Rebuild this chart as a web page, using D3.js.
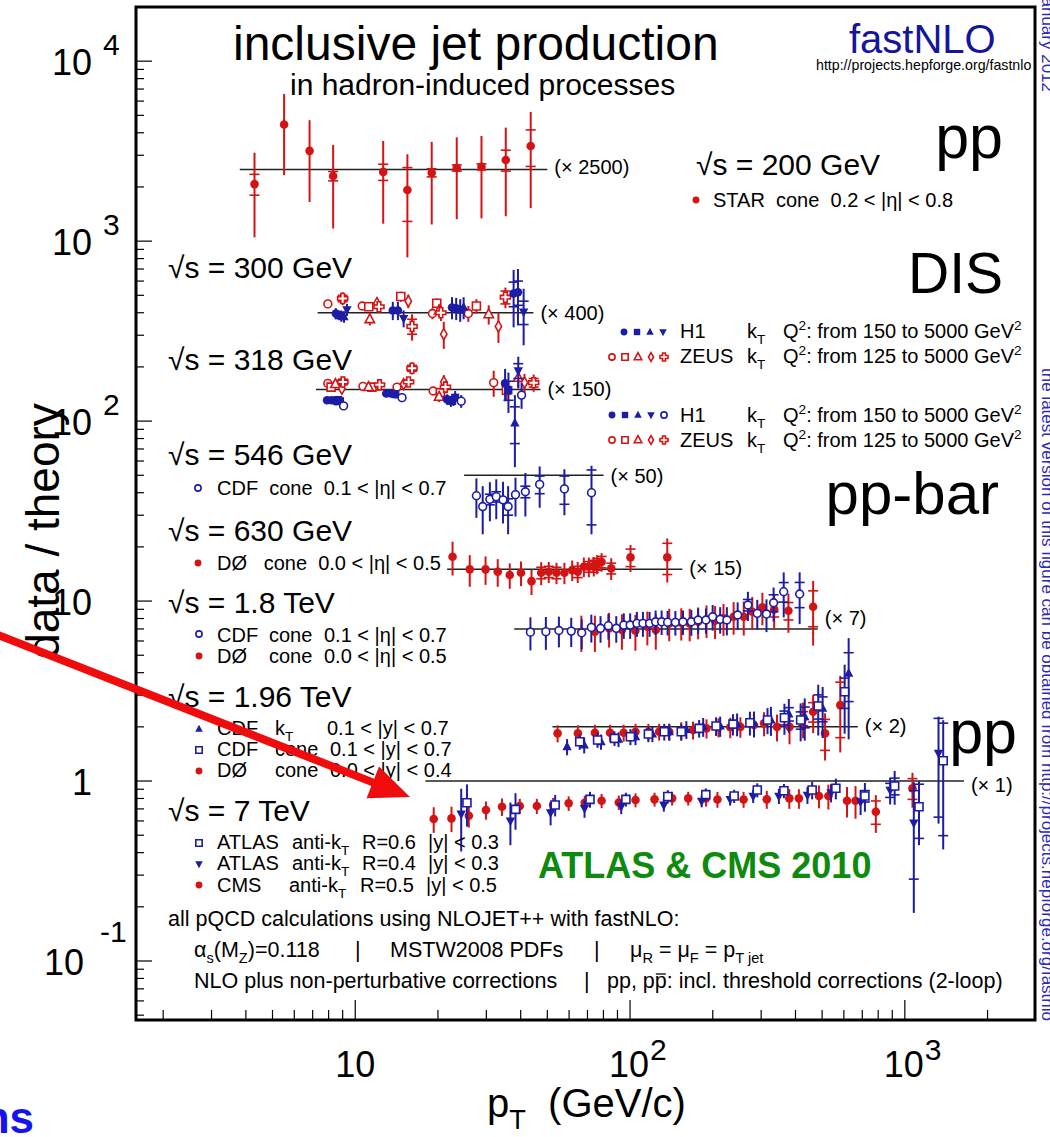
<!DOCTYPE html>
<html>
<head>
<meta charset="utf-8">
<style>
body { margin: 0; background: #fff; }
svg { display: block; font-family: "Liberation Sans", Arial, Helvetica, sans-serif; }
svg text { white-space: pre; }
</style>
</head>
<body>
<svg id="chart" width="1050" height="1137"></svg>
<script src="https://cdn.jsdelivr.net/npm/d3@7"></script>
<script>
const RED = "#d41414", BLUE = "#1c1ca4", GREEN = "#0e8a0e", NAVY = "#14149c";

// each point: [pT (GeV/c), data/theory, total error, stat error (0 = none)]
const star200 = [[4.30,0.83,0.41,0.11],[5.51,1.78,0.85,0],[6.82,1.27,0.61,0],[8.31,0.92,0.45,0.055],[12.64,0.97,0.47,0.10],
  [15.48,0.77,0.445,0.255],[18.98,0.96,0.465,0.05],[23.41,1.02,0.49,0.04],[28.8,1.035,0.5,0.04],[35.3,1.13,0.58,0.15],[43.5,1.35,0.74,0.31]];

// DIS, sqrt(s) = 300 GeV
const h1_300_circ = [[8.5,0.99,0.07],[8.9,0.96,0.07],[13.7,1.03,0.12],[14.3,1.03,0.12],[22.5,1.07,0.15],[23.3,1.06,0.15],[37.7,1.28,0.45,0.2],[39.1,1.30,0.45,0.2]];
const h1_300_sq = [[8.7,0.97,0.06],[24.1,1.04,0.15]];
const h1_300_tu = [[9.1,0.95,0.07],[24.8,1.07,0.15]];
const h1_300_td = [[9.33,1.04,0.08],[15.0,0.93,0.1],[41.0,1.01,0.35,0.15]];
const zeus_300_circ = [[7.95,1.12,0.06],[10.6,1.09,0.05],[19.1,0.99,0.07],[25.8,0.99,0.1]];
const zeus_300_sq = [[11.2,1.08,0.05],[14.65,1.23,0.08],[19.8,1.13,0.07],[27.6,1.09,0.1]];
const zeus_300_tu = [[11.3,0.92,0.07],[20.2,1.03,0.08],[30.6,0.98,0.12]];
const zeus_300_dia = [[12.0,1.13,0.08],[15.6,1.16,0.1],[21.0,0.76,0.13],[33.2,0.84,0.16]];
const zeus_300_cross = [[9.0,1.2,0.1,0.05],[12.2,1.08,0.08],[16.1,0.84,0.14,0.08],[20.5,1.0,0.1],[35.2,1.22,0.16,0.1]];

// DIS, sqrt(s) = 318 GeV
const h1_318_circ = [[7.9,0.87,0.03],[8.2,0.87,0.03],[8.5,0.86,0.03],[12.97,0.95,0.04],[13.5,0.95,0.04],[21.6,0.88,0.06],[22.3,0.86,0.06],[35.1,1.08,0.22]];
const h1_318_sq = [[8.8,0.86,0.04],[14.0,0.94,0.05],[23.1,0.9,0.08],[36.1,0.99,0.25,0.12]];
const h1_318_tu = [[38.1,0.65,0.28,0.15]];
const h1_318_td = [[8.65,0.88,0.04],[22.8,0.87,0.06],[39.2,1.27,0.25,0.12]];
const h1_318_open = [[9.07,0.81,0.04],[14.8,0.9,0.05],[24.3,0.86,0.07],[40.3,0.93,0.15]];
const zeus_318_circ = [[7.95,1.08,0.05],[10.67,1.04,0.04],[14.19,1.03,0.04],[19.2,0.98,0.05],[31.9,1.09,0.18]];
const zeus_318_sq = [[8.17,1.03,0.05],[11.5,1.03,0.04],[20.4,0.96,0.06],[35.5,0.99,0.12]];
const zeus_318_tu = [[8.47,1.07,0.05],[11.18,1.03,0.04],[20.2,0.91,0.06],[39.2,1.16,0.15]];
const zeus_318_dia = [[8.94,1.01,0.05],[15.0,1.07,0.05],[21.0,1.1,0.1],[41.3,1.09,0.13]];
const zeus_318_cross = [[9.02,1.1,0.08,0.04],[12.26,1.06,0.05],[15.64,1.1,0.05],[16.09,1.31,0.1,0.05],[21.3,1.03,0.08],[44.6,1.09,0.12,0.06]];

// p-pbar
const cdf546 = [[27.6,0.77,0.19],[29.1,0.67,0.2],[30.9,0.735,0.18,0.05],[32.6,0.76,0.19,0.05],[34.5,0.73,0.19],[36.0,0.67,0.2,0.07],
  [38.3,0.78,0.19],[41.6,0.81,0.22,0.06],[46.9,0.89,0.23,0.1],[57.7,0.84,0.24,0.15],[72.4,0.8,0.33,0.27]];
const d0630 = [[22.6,1.175,0.25],[26.1,1.0,0.2],[29.8,1.0,0.18],[33.0,0.97,0.17],[36.5,0.93,0.15],[40.1,0.957,0.15],[43.8,0.86,0.14],
  [47.5,0.957,0.14,0.07],[50.6,0.97,0.13,0.07],[54.0,0.957,0.13,0.07],[57.7,0.957,0.13],[61.6,0.99,0.13],[64.5,0.97,0.13,0.07],
  [67.9,1.034,0.13],[70.8,1.034,0.13,0.07],[73.8,1.043,0.13,0.08],[75.9,1.07,0.13,0.08],[78.8,1.10,0.13,0.08],[85.4,1.013,0.14,0.07],
  [100.4,1.166,0.2,0.13],[136.6,1.166,0.32,0.23]];
const cdf1800 = [[43.4,0.96,0.2],[49.4,0.965,0.2],[55.1,0.98,0.19],[61.1,0.973,0.18],[66.7,0.952,0.18],[72.3,1.02,0.18],[78.1,1.008,0.17],
  [83.4,1.042,0.17],[89.1,1.008,0.17],[94.9,1.051,0.17],[100.1,1.051,0.17],[105.9,1.074,0.17],[111.4,1.074,0.17],[117.8,1.074,0.17],
  [123.9,1.096,0.17],[130.3,1.096,0.17],[137.0,1.09,0.17],[146.2,1.088,0.17],[155.8,1.096,0.17],[167.1,1.096,0.18],[176.9,1.121,0.18],
  [188.9,1.121,0.18],[199.8,1.169,0.19],[212.8,1.131,0.19],[225.1,1.121,0.2],[246.4,1.195,0.21],[268.5,1.358,0.25,0.1],[290.4,1.221,0.23],
  [313.7,1.21,0.25],[333,1.398,0.3,0.15],[362.4,1.61,0.45,0.2],[414.2,1.563,0.5,0.25]];
const d01800 = [[66.5,0.965,0.22],[74.5,0.965,0.22],[83.9,1.008,0.22],[93.4,0.986,0.22],[104.6,0.977,0.22],[115.6,1.03,0.22],[124.1,0.986,0.22],
  [138.9,1.074,0.22],[153.6,1.082,0.22],[164.8,1.074,0.22],[176.9,1.096,0.22],[189.8,1.121,0.23],[203.9,1.11,0.23],[218.8,1.145,0.23],
  [238.2,1.169,0.24],[259.3,1.169,0.25],[278.5,1.246,0.26],[303.1,1.318,0.27],[334.6,1.285,0.28,0.12],[377,1.262,0.31,0.14],[463.7,1.328,0.52,0.3]];
const d01960 = [[54.5,0.92,0.1],[64.6,0.92,0.1],[74.5,0.927,0.1],[84.6,0.927,0.1],[94.8,0.927,0.1],[104.7,0.939,0.1],[116.6,0.939,0.1],
  [127.6,0.939,0.1],[138.9,0.939,0.1],[153.6,0.951,0.11],[169.5,0.96,0.11],[189.8,0.981,0.12],[209.8,0.994,0.12],[231.6,0.994,0.13],
  [252.1,1.0,0.13],[282.5,1.023,0.15],[307.4,1.046,0.16],[342.6,1.0,0.17],[380.5,1.0,0.2],[426.2,1.115,0.25,0.1],[463.7,1.213,0.29,0.15],
  [512.4,0.92,0.27,0.18],[582.1,1.321,0.6,0.45]];
const cdfkt1960 = [[59.0,0.775,0.08],[68.1,0.792,0.08],[78.4,0.826,0.08],[90.8,0.852,0.08],[104.7,0.881,0.09],[120.6,0.912,0.09],[138.9,0.939,0.1],
  [160.3,0.966,0.11],[184.6,1.0,0.12],[212.8,1.01,0.13],[245.2,1.036,0.15],[282.5,1.046,0.17],[325.6,1.091,0.2],[378.3,1.178,0.25,0.1],
  [432.3,1.138,0.3,0.15],[502.2,1.267,0.4,0.2],[624.5,1.982,1.13,0.6]];
const cdfcone1960 = [[65.6,0.826,0.08],[76.2,0.845,0.08],[87.8,0.863,0.08],[100.3,0.881,0.09],[116.6,0.912,0.09],[133.2,0.939,0.1],
  [153.6,0.939,0.1],[178.4,0.981,0.11],[205.6,1.01,0.12],[236.9,1.036,0.14],[273.0,1.054,0.16],[316.4,1.091,0.18],[364.6,1.124,0.22,0.1],
  [417.7,1.091,0.26,0.12],[484.0,1.305,0.41,0.2],[603.9,1.566,0.65,0.3]];

// pp, sqrt(s) = 7 TeV
const cms7 = [[19.3,0.615,0.1],[22.4,0.62,0.1],[25.9,0.641,0.09],[29.9,0.69,0.08],[34.2,0.72,0.08],[39.7,0.726,0.07],[45.8,0.726,0.07],
  [52.5,0.736,0.07],[59.8,0.752,0.07],[68.4,0.758,0.07],[78.8,0.777,0.07],[91.0,0.76,0.07],[104.7,0.784,0.07],[122.8,0.791,0.07],
  [142.3,0.801,0.07],[162.8,0.801,0.07],[188.9,0.801,0.08],[208,0.79,0.08],[258.9,0.79,0.08],[314.5,0.791,0.09],[379.8,0.801,0.1],
  [411.6,0.801,0.1],[486.9,0.825,0.12],[526.9,0.825,0.13],[615.9,0.777,0.15],[661.4,0.777,0.16],[784.2,0.675,0.16,0.1],[1066,0.911,0.2,0.12]];
const atlas06 = [[25.5,0.758,0.2],[38.3,0.696,0.16],[53.4,0.736,0.1],[71.5,0.791,0.08],[96.6,0.791,0.07],[137.2,0.82,0.07],[188.7,0.84,0.07],
  [239.3,0.825,0.07],[290.4,0.891,0.08],[363.1,0.883,0.08],[459.9,0.891,0.1],[561,0.911,0.12],[715.6,0.825,0.15,0.06],[918.2,0.938,0.2,0.1],
  [1126,0.72,0.28,0.24],[1379,1.297,0.88,0.8]];
const atlas04 = [[24.3,0.656,0.25],[36.7,0.6,0.16],[51.4,0.667,0.1],[68.3,0.705,0.08],[92.9,0.724,0.07],[132.7,0.736,0.06],[182.2,0.774,0.06],
  [231.4,0.79,0.06],[280.6,0.825,0.07],[348.1,0.825,0.08],[442.1,0.836,0.09],[538.8,0.861,0.1],[690.2,0.767,0.12],[884.1,0.891,0.15,0.08],
  [1078,0.585,0.4,0.3],[1326,1.43,0.85,0.8]];

// theory reference lines: offset factor and pT range
const factors = [2500, 400, 150, 50, 15, 7, 2, 1];
const lineFrom = [3.8, 7.3, 7.2, 24.9, 21.6, 37.9, 52.2, 18.0];
const lineTo = [50, 44.5, 47.2, 80.1, 155, 482, 674, 1641];
const factorLabelDy = [4, 7, 7, 8, 6, -4, 6, 11];

const series = [
  {d: star200, f: 2500, m: "circle", c: RED},
  {d: zeus_300_circ, f: 400, m: "ocircle", c: RED}, {d: zeus_300_sq, f: 400, m: "osquare", c: RED},
  {d: zeus_300_tu, f: 400, m: "otup", c: RED}, {d: zeus_300_dia, f: 400, m: "odiamond", c: RED},
  {d: zeus_300_cross, f: 400, m: "ocross", c: RED},
  {d: h1_300_circ, f: 400, m: "circle", c: BLUE}, {d: h1_300_sq, f: 400, m: "square", c: BLUE},
  {d: h1_300_tu, f: 400, m: "tup", c: BLUE}, {d: h1_300_td, f: 400, m: "tdown", c: BLUE},
  {d: zeus_318_circ, f: 150, m: "ocircle", c: RED}, {d: zeus_318_sq, f: 150, m: "osquare", c: RED},
  {d: zeus_318_tu, f: 150, m: "otup", c: RED}, {d: zeus_318_dia, f: 150, m: "odiamond", c: RED},
  {d: zeus_318_cross, f: 150, m: "ocross", c: RED},
  {d: h1_318_circ, f: 150, m: "circle", c: BLUE}, {d: h1_318_sq, f: 150, m: "square", c: BLUE},
  {d: h1_318_tu, f: 150, m: "tup", c: BLUE}, {d: h1_318_td, f: 150, m: "tdown", c: BLUE},
  {d: h1_318_open, f: 150, m: "ocircle", c: BLUE},
  {d: cdf546, f: 50, m: "ocircle", c: BLUE},
  {d: d0630, f: 15, m: "circle", c: RED},
  {d: d01800, f: 7, m: "circle", c: RED}, {d: cdf1800, f: 7, m: "ocircle", c: BLUE},
  {d: d01960, f: 2, m: "circle", c: RED}, {d: cdfkt1960, f: 2, m: "tup", c: BLUE}, {d: cdfcone1960, f: 2, m: "osquare", c: BLUE},
  {d: cms7, f: 1, m: "circle", c: RED}, {d: atlas04, f: 1, m: "tdown", c: BLUE}, {d: atlas06, f: 1, m: "osquare", c: BLUE}
];

const svg = d3.select("#chart");
const x = d3.scaleLog().domain([1.593, 2976]).range([136, 1035]);
const y = d3.scaleLog().domain([0.047, 20000]).range([1020, 7]);

svg.append("rect").attr("width", 1050).attr("height", 1137).attr("fill", "#fff");

function rich(g, px, py, parts, size, color, anchor) {
  const t = g.append("text").attr("x", px).attr("y", py).attr("font-size", size).attr("fill", color || "#000");
  if (anchor) t.attr("text-anchor", anchor);
  let shift = 0;
  parts.forEach(p => {
    if (typeof p === "string") p = {t: p};
    const target = p.sub ? 0.3 * size : p.sup ? -0.42 * size : 0;
    const ts = t.append("tspan").text(p.t);
    if (target - shift) ts.attr("dy", target - shift);
    if (p.sub || p.sup) ts.attr("font-size", size * 0.68);
    shift = target;
  });
  return t;
}

function marker(g, type, cx, cy, col, k) {
  k = k || 1;
  const open = type[0] === "o";
  const shape = open ? type.slice(1) : type;
  let el;
  if (shape === "circle") {
    el = g.append("circle").attr("cx", cx).attr("cy", cy).attr("r", (open ? 3.9 : 4.3) * k);
  } else {
    let p;
    if (shape === "square") p = [[-4,-4],[4,-4],[4,4],[-4,4]];
    else if (shape === "tup") p = [[0,-5.4],[4.7,3.4],[-4.7,3.4]];
    else if (shape === "tdown") p = [[0,5.4],[4.7,-3.4],[-4.7,-3.4]];
    else if (shape === "diamond") p = [[0,-5.5],[3.2,0],[0,5.5],[-3.2,0]];
    else p = [[-1.8,-5],[1.8,-5],[1.8,-1.8],[5,-1.8],[5,1.8],[1.8,1.8],[1.8,5],[-1.8,5],[-1.8,1.8],[-5,1.8],[-5,-1.8],[-1.8,-1.8]];
    el = g.append("path").attr("d", "M" + p.map(q => (cx + q[0] * k) + "," + (cy + q[1] * k)).join("L") + "Z");
  }
  if (open) el.attr("fill", "#fff").attr("stroke", col).attr("stroke-width", 1.6);
  else el.attr("fill", col);
}

// ticks
const axes = svg.append("g").attr("stroke", "#000").attr("stroke-width", 1.2);
d3.range(-2, 5).forEach(e => {
  d3.range(1, 10).forEach(m => {
    const v = m * Math.pow(10, e);
    if (v < 0.047 || v > 20000) return;
    const yy = y(v);
    axes.append("line").attr("x1", 136).attr("x2", 136 + (m === 1 ? 16 : 8)).attr("y1", yy).attr("y2", yy);
  });
});
d3.range(0, 4).forEach(e => {
  d3.range(1, 10).forEach(m => {
    const v = m * Math.pow(10, e);
    if (v < 1.6 || v > 2976) return;
    const xx = x(v);
    axes.append("line").attr("x1", xx).attr("x2", xx).attr("y1", 1020).attr("y2", 1020 - (m === 1 ? 20 : 10));
  });
});

// y tick labels
const yTicks = [1e4, 1e3, 100, 10, 1, 0.1];
const yTickExp = ["4", "3", "2", "", "", "-1"];
const yTickMain = ["10", "10", "10", "10", "1", "10"];
yTicks.forEach((v, i) => {
  const yy = y(v);
  const neg = yTickExp[i][0] === "-";
  svg.append("text").attr("x", neg ? 84 : 92).attr("y", yy + 14).attr("text-anchor", "end").attr("font-size", 36).text(yTickMain[i]);
  if (yTickExp[i]) svg.append("text").attr("x", neg ? 100 : 103).attr("y", neg ? yy - 19 : yy - 6).attr("font-size", 30).text(yTickExp[i]);
});
// x tick labels
const xTicks = [10, 100, 1000];
const xTickExp = ["", "2", "3"];
xTicks.forEach((v, i) => {
  const xx = x(v);
  svg.append("text").attr("x", xx - (xTickExp[i] ? 1 : 0)).attr("y", 1077).attr("text-anchor", "middle").attr("font-size", 36).text("10");
  if (xTickExp[i]) svg.append("text").attr("x", xx + 20).attr("y", 1060).attr("font-size", 30).text(xTickExp[i]);
});

// axis titles
svg.append("text").attr("transform", "translate(59,531) rotate(-90)").attr("text-anchor", "middle").attr("font-size", 46).text("data / theory");
rich(svg, 487, 1117, ["p", {t: "T", sub: true}, "  (GeV/c)"], 40);

// theory lines
const plot = svg.append("g");
factors.forEach((f, i) => {
  const yy = y(f);
  plot.append("line").attr("x1", x(lineFrom[i])).attr("x2", x(lineTo[i])).attr("y1", yy).attr("y2", yy)
    .attr("stroke", "#222").attr("stroke-width", 1.5);
  plot.append("text").attr("x", x(lineTo[i]) + 7).attr("y", yy + factorLabelDy[i]).attr("font-size", 20).text("(\u00d7 " + f + ")");
});

// data
series.forEach(s => {
  const g = plot.append("g");
  s.d.forEach(d => {
    const cx = x(d[0]), r = d[1], e = d[2], st = d[3];
    g.append("line").attr("x1", cx).attr("x2", cx).attr("y1", y((r + e) * s.f)).attr("y2", y(Math.max(r - e, 0.02) * s.f))
      .attr("stroke", s.c).attr("stroke-width", 2);
    if (st) [r + st, r - st].forEach(v => g.append("line").attr("x1", cx - 5).attr("x2", cx + 5)
      .attr("y1", y(v * s.f)).attr("y2", y(v * s.f)).attr("stroke", s.c).attr("stroke-width", 1.6));
  });
  s.d.forEach(d => marker(g, s.m, x(d[0]), y(d[1] * s.f), s.c));
});

// titles
svg.append("text").attr("x", 233).attr("y", 60).attr("font-size", 48).text("inclusive jet production");
svg.append("text").attr("x", 290).attr("y", 95).attr("font-size", 30).text("in hadron-induced processes");
svg.append("text").attr("x", 849).attr("y", 53).attr("font-size", 40).attr("fill", NAVY).text("fastNLO");
svg.append("text").attr("x", 816).attr("y", 70).attr("font-size", 14.2).text("http://projects.hepforge.org/fastnlo");
svg.append("text").attr("x", 1003).attr("y", 158).attr("font-size", 61).attr("text-anchor", "end").text("pp");
svg.append("text").attr("x", 1003).attr("y", 293).attr("font-size", 57).attr("text-anchor", "end").text("DIS");
svg.append("text").attr("x", 999).attr("y", 514).attr("font-size", 60).attr("text-anchor", "end").text("pp-bar");
svg.append("text").attr("x", 1017).attr("y", 753).attr("font-size", 61).attr("text-anchor", "end").text("pp");

// energy labels
const energyText = ["\u221as = 200 GeV", "\u221as = 300 GeV", "\u221as = 318 GeV", "\u221as = 546 GeV", "\u221as = 630 GeV",
  "\u221as = 1.8 TeV", "\u221as = 1.96 TeV", "\u221as = 7 TeV"];
const energyPos = [[696, 175], [168, 278], [168, 370], [168, 465], [168, 541], [168, 613], [168, 707], [168, 821]];
energyText.forEach((t, i) => svg.append("text").attr("x", energyPos[i][0]).attr("y", energyPos[i][1]).attr("font-size", 30).text(t));

// legend entries
const KT = ["k", {t: "T", sub: true}];
const AKT = ["anti-k", {t: "T", sub: true}];
const legend = [
  {m: [["circle", RED]], mx: 696, my: 200, base: 207, cols: [[713, ["STAR  cone  0.2 < |\u03b7| < 0.8"]]]},
  {m: [["ocircle", BLUE]], mx: 198, my: 488, base: 495, cols: [[217, ["CDF  cone  0.1 < |\u03b7| < 0.7"]]]},
  {m: [["circle", RED]], mx: 198, my: 563, base: 570, cols: [[217, ["D\u00d8   cone  0.0 < |\u03b7| < 0.5"]]]},
  {m: [["ocircle", BLUE]], mx: 199, my: 634, base: 642, cols: [[217, ["CDF"]], [269, ["cone"]], [324, ["0.1 < |\u03b7| < 0.7"]]]},
  {m: [["circle", RED]], mx: 199, my: 656, base: 663, cols: [[217, ["D\u00d8"]], [269, ["cone"]], [324, ["0.0 < |\u03b7| < 0.5"]]]},
  {m: [["tup", BLUE]], mx: 199, my: 729, base: 735, cols: [[217, ["CDF"]], [275, KT], [327, ["0.1 < |y| < 0.7"]]]},
  {m: [["osquare", BLUE]], mx: 199, my: 750, base: 756, cols: [[217, ["CDF"]], [275, ["cone"]], [330, ["0.1 < |y| < 0.7"]]]},
  {m: [["circle", RED]], mx: 199, my: 771, base: 777, cols: [[217, ["D\u00d8"]], [275, ["cone"]], [330, ["0.0 < |y| < 0.4"]]]},
  {m: [["osquare", BLUE]], mx: 199, my: 843, base: 849, cols: [[217, ["ATLAS"]], [292, AKT], [362, ["R=0.6"]], [428, ["|y| < 0.3"]]]},
  {m: [["tdown", BLUE]], mx: 199, my: 864, base: 870, cols: [[217, ["ATLAS"]], [292, AKT], [362, ["R=0.4"]], [428, ["|y| < 0.3"]]]},
  {m: [["circle", RED]], mx: 199, my: 885, base: 892, cols: [[217, ["CMS"]], [289, AKT], [360, ["R=0.5"]], [426, ["|y| < 0.5"]]]}
];
const Q_H1 = ["Q", {t: "2", sup: true}, ": from 150 to 5000 GeV", {t: "2", sup: true}];
const Q_ZEUS = ["Q", {t: "2", sup: true}, ": from 125 to 5000 GeV", {t: "2", sup: true}];
const disRows = [
  {m: [["circle", BLUE], ["square", BLUE], ["tup", BLUE], ["tdown", BLUE]], mx: 624, my: 332, base: 338, name: "H1", q: Q_H1},
  {m: [["ocircle", RED], ["osquare", RED], ["otup", RED], ["odiamond", RED], ["ocross", RED]], mx: 612, my: 357, base: 363, name: "ZEUS", q: Q_ZEUS},
  {m: [["circle", BLUE], ["square", BLUE], ["tup", BLUE], ["tdown", BLUE], ["ocircle", BLUE]], mx: 612, my: 415, base: 422, name: "H1", q: Q_H1},
  {m: [["ocircle", RED], ["osquare", RED], ["otup", RED], ["odiamond", RED], ["ocross", RED]], mx: 612, my: 440, base: 447, name: "ZEUS", q: Q_ZEUS}
];
disRows.forEach(r => legend.push({m: r.m, mx: r.mx, my: r.my, base: r.base, step: 13,
  cols: [[680, [r.name]], [747, KT], [783, r.q]]}));

const leg = svg.append("g");
legend.forEach(e => {
  e.m.forEach((mk, j) => marker(leg, mk[0], e.mx + j * (e.step || 0), e.my, mk[1], 0.8));
  e.cols.forEach(c => rich(leg, c[0], e.base, c[1], 20));
});

// green note
svg.append("text").attr("x", 538).attr("y", 878).attr("font-size", 36).attr("font-weight", "bold").attr("fill", GREEN).text("ATLAS & CMS 2010");

// calculation notes
const notes = svg.append("g");
rich(notes, 168, 926, ["all pQCD calculations using NLOJET++ with fastNLO:"], 21.5);
rich(notes, 194, 957, ["\u03b1", {t: "s", sub: true}, "(M", {t: "Z", sub: true}, ")=0.118"], 21.5);
rich(notes, 355, 957, ["|"], 21.5);
rich(notes, 390, 957, ["MSTW2008 PDFs"], 21.5);
rich(notes, 594, 957, ["|"], 21.5);
rich(notes, 630, 957, ["\u03bc", {t: "R", sub: true}, " = \u03bc", {t: "F", sub: true}, " = p", {t: "T jet", sub: true}], 21.5);
rich(notes, 194, 988, ["NLO plus non-perturbative corrections"], 21.5);
rich(notes, 584, 988, ["|"], 21.5);
const ppb = notes.append("text").attr("x", 607).attr("y", 988).attr("font-size", 21.5);
ppb.append("tspan").text("pp, p");
const barP = ppb.append("tspan").text("p");
ppb.append("tspan").text(": incl. threshold corrections (2-loop)");
const bx = barP.node().getStartPositionOfChar(0).x, bw = barP.node().getComputedTextLength();
notes.append("line").attr("x1", bx + 1).attr("x2", bx + bw - 1).attr("y1", 988 - 14).attr("y2", 988 - 14)
  .attr("stroke", "#000").attr("stroke-width", 1.3);

// frame
svg.append("rect").attr("x", 136).attr("y", 7).attr("width", 899).attr("height", 1013)
  .attr("fill", "none").attr("stroke", "#000").attr("stroke-width", 3);

// side notes, rotated
svg.append("text").attr("transform", "translate(1042,-11) rotate(90)").attr("font-size", 17).attr("fill", "#2a2ab4").text("January 2012");
svg.append("text").attr("transform", "translate(1042,1021) rotate(90)").attr("text-anchor", "end").attr("font-size", 17)
  .attr("fill", "#2a2ab4").text("the latest version of this figure can be obtained from http://projects.hepforge.org/fastnlo");

// red arrow overlay
(function () {
  const x0 = -12, y0 = 631, x1 = 410, y1 = 797, hw = 4, hl = 40, hh = 17;
  const L = Math.hypot(x1 - x0, y1 - y0), ux = (x1 - x0) / L, uy = (y1 - y0) / L, nx = -uy, ny = ux;
  const bx = x1 - ux * hl, by = y1 - uy * hl;
  const pts = [[x0 + nx * hw, y0 + ny * hw], [bx + nx * hw, by + ny * hw], [bx + nx * hh, by + ny * hh], [x1, y1],
    [bx - nx * hh, by - ny * hh], [bx - nx * hw, by - ny * hw], [x0 - nx * hw, y0 - ny * hw]];
  svg.append("path").attr("d", "M" + pts.map(p => p.join(",")).join("L") + "Z").attr("fill", "#f00c0c");
})();

svg.append("text").attr("x", 34).attr("y", 1133).attr("text-anchor", "end").attr("font-size", 44)
  .attr("font-weight", "bold").attr("fill", "#1414f0").text("ns");
</script>
</body>
</html>
